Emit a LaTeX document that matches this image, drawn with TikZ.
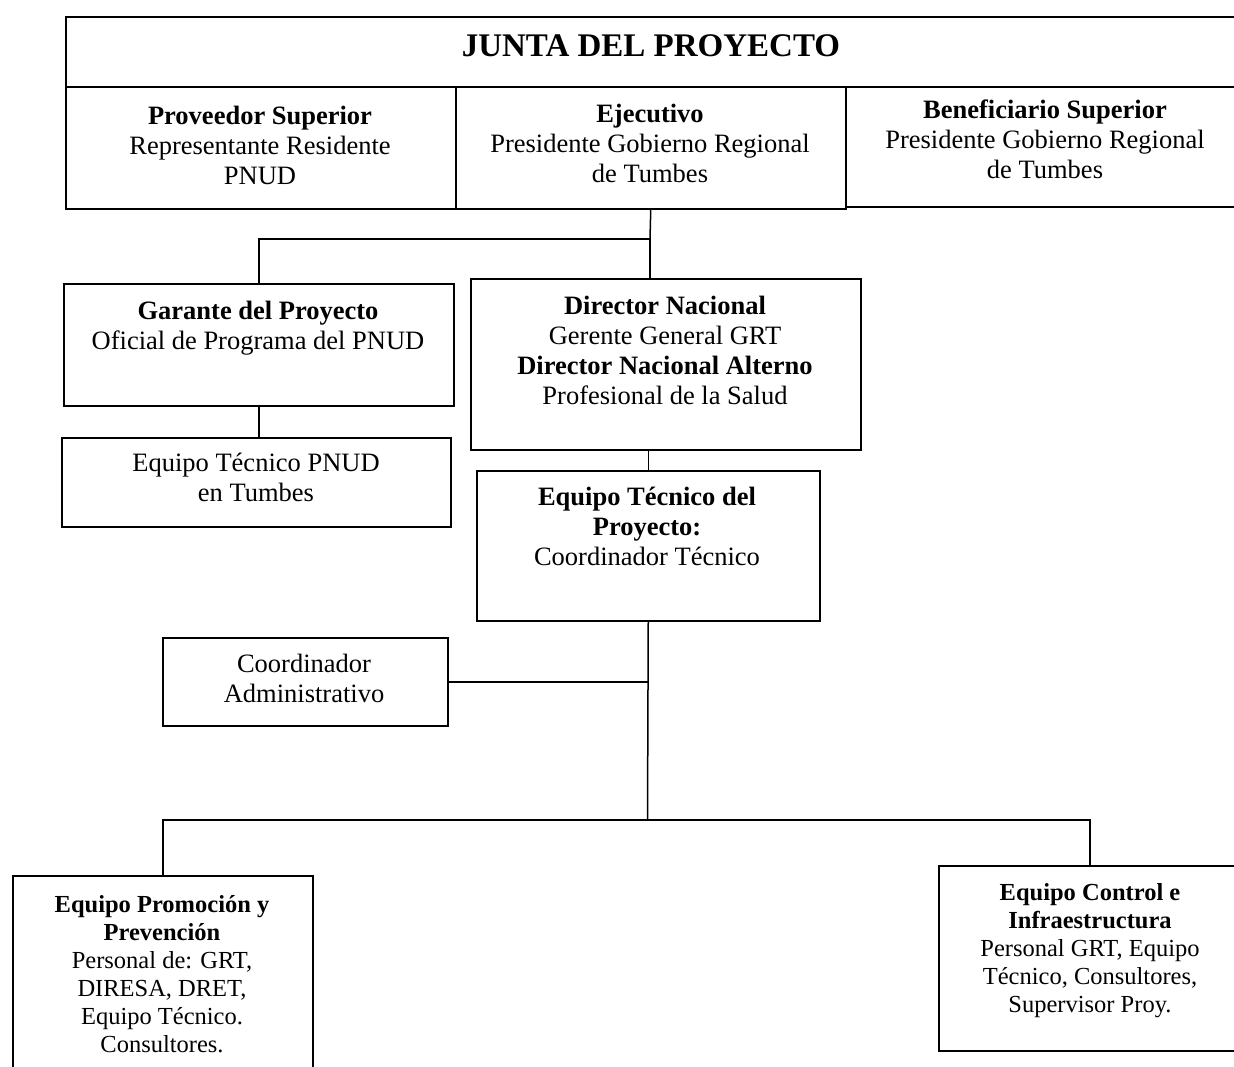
\documentclass[tikz,border=0pt]{standalone}
\usepackage{fontspec}
\setmainfont{Liberation Serif}
\usetikzlibrary{positioning}

\tikzset{
  caja/.style={draw, line width=1.5pt, inner sep=0pt, anchor=north west},
  texto/.style={align=center, inner sep=0pt, anchor=north, font=\fontsize{26.5}{30}\selectfont},
  textochico/.style={align=center, inner sep=0pt, anchor=north, font=\fontsize{24.5}{28}\selectfont},
  titulo/.style={inner sep=0pt, anchor=north, font=\fontsize{33}{40}\selectfont\bfseries},
  linea/.style={line width=1.5pt}
}

\begin{document}
\begin{tikzpicture}[x=1pt,y=-1pt]
  \useasboundingbox (0,0) rectangle (1234,1066);
  \clip (0,0) rectangle (1234,1066);

  % junta
  \node[caja, minimum width=1175pt, minimum height=70pt] (junta) at (65,16) {};
  \node[titulo] (juntatxt) at (651,34) {JUNTA DEL PROYECTO};
  \node[caja, minimum width=390pt, minimum height=122pt] (prov) at (65,86) {};
  \node[caja, minimum width=390pt, minimum height=122pt] (ejec) at (455,86) {};
  \node[caja, minimum width=395pt, minimum height=120pt] (benef) at (845,86) {};
  \node[texto] (provtxt) at (260,106) {\textbf{Proveedor Superior}\\Representante Residente\\PNUD};
  \node[texto] (ejectxt) at (650,104) {\textbf{Ejecutivo}\\Presidente Gobierno Regional\\de Tumbes};
  \node[texto] (beneftxt) at (1045,100) {\textbf{Beneficiario Superior}\\Presidente Gobierno Regional\\de Tumbes};

  % segundo nivel
  \node[caja, minimum width=390pt, minimum height=122pt] (garante) at (63,283) {};
  \node[texto] (garantetxt) at (258,301) {\textbf{Garante del Proyecto}\\Oficial de Programa del PNUD};
  \node[caja, minimum width=389pt, minimum height=89pt] (eqpnud) at (61,437) {};
  \node[texto] (eqpnudtxt) at (256,453) {Equipo Técnico PNUD\\en Tumbes};
  \node[caja, minimum width=390pt, minimum height=171pt] (director) at (470,278) {};
  \node[texto] (directortxt) at (665,296) {\textbf{Director Nacional}\\Gerente General GRT\\\textbf{Director Nacional Alterno}\\Profesional de la Salud};
  \node[caja, minimum width=343pt, minimum height=150pt] (eqtec) at (476,470) {};
  \node[texto] (eqtectxt) at (647,487) {\textbf{Equipo Técnico del}\\\textbf{Proyecto:}\\Coordinador Técnico};
  \node[caja, minimum width=285pt, minimum height=88pt] (coord) at (162,637) {};
  \node[texto] (coordtxt) at (304,654) {Coordinador\\Administrativo};

  % equipos
  \node[caja, minimum width=300pt, minimum height=220pt] (promo) at (12,875) {};
  \node[textochico] (promotxt) at (162,895) {\textbf{Equipo Promoción y}\\\textbf{Prevención}\\Personal de: GRT,\\DIRESA, DRET,\\Equipo Técnico.\\Consultores.};
  \node[caja, minimum width=302pt, minimum height=185pt] (control) at (938,865) {};
  \node[textochico] (controltxt) at (1090,883) {\textbf{Equipo Control e}\\\textbf{Infraestructura}\\Personal GRT, Equipo\\Técnico, Consultores,\\Supervisor Proy.};

  % conectores
  \coordinate (r1) at (650,239);
  \coordinate (r2) at (647.5,820);
  \coordinate (r3) at (1090,820);
  \draw[linea] (ejec.south) -- (r1);
  \draw[linea] (r1) -| (garante.north);
  \draw[linea] (r1) -- (r1 |- director.north);
  \draw[linea] (garante.south) -- (garante.south |- eqpnud.north);
  \draw[linea] (eqtec.north |- director.south) -- (eqtec.north);
  \draw[linea] (eqtec.south) -- (r2);
  \draw[linea] (coord.east) -- (coord.east -| eqtec.south);
  \draw[linea] (r2) -| (promo.north);
  \draw[linea] (r2) -- (r3) -- (r3 |- control.north);

\end{tikzpicture}
\end{document}
